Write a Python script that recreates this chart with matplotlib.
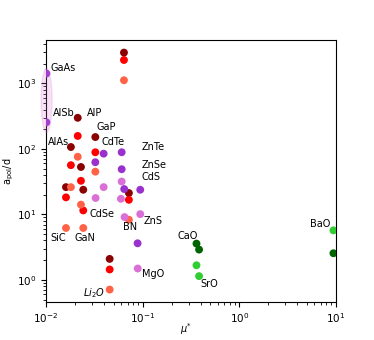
import matplotlib
matplotlib.use("Agg")
import matplotlib.pyplot as plt
from matplotlib.patches import Ellipse

# --- data (mu*, a_pol/d) per series ---
darkred_x = [0.0641, 0.0213, 0.0324, 0.0181, 0.0230, 0.0161, 0.0243, 0.0721, 0.0456]
darkred_y = [2965, 299, 152, 107, 53, 26.1, 23.8, 21.2, 2.09]
red_x = [0.0641, 0.0213, 0.0181, 0.0324, 0.0230, 0.0161, 0.0243, 0.0721, 0.0456]
red_y = [2285, 158, 56.5, 89, 32.6, 18.2, 11.5, 16.7, 1.44]
tomato_x = [0.0641, 0.0213, 0.0324, 0.0181, 0.0230, 0.0161, 0.0243, 0.0721, 0.0456]
tomato_y = [1122, 76, 45, 26.1, 14.1, 6.2, 6.2, 8.3, 0.71]
violet_x = [0.0101, 0.0101, 0.0324, 0.0395, 0.0607, 0.0607, 0.0645, 0.0945, 0.0887]
violet_y = [1420, 255, 62.7, 84.7, 89, 49, 24.4, 23.8, 3.62]
orchid_x = [0.0607, 0.0326, 0.0395, 0.0596, 0.0650, 0.0945, 0.0890]
orchid_y = [31.8, 17.8, 26.1, 17.3, 9.1, 10.1, 1.49]
dkgreen_x = [0.361, 0.384, 9.44]
dkgreen_y = [3.58, 2.9, 2.55]
ltgreen_x = [0.361, 0.384, 9.44]
ltgreen_y = [1.67, 1.14, 5.7]

labels = ["GaAs", "AlSb", "AlP", "GaP", "AlAs", "CdTe", "ZnTe", "ZnSe", "CdS",
          "CdSe", "SiC", "GaN", "BN", "ZnS", "MgO", r"$Li_2O$", "CaO", "SrO", "BaO"]
label_x = [0.0110, 0.0119, 0.0266, 0.0337, 0.0105, 0.0379, 0.0983, 0.0983, 0.0983,
           0.0285, 0.0110, 0.0195, 0.0625, 0.1031, 0.0983, 0.0241, 0.232, 0.398, 5.46]
label_y = [1709, 357, 357, 218, 129, 129, 108, 57.1, 37.9,
           10.1, 4.37, 4.37, 6.34, 7.83, 1.25, 0.637, 4.74, 0.873, 7.22]

fig = plt.figure(figsize=(3.74, 3.40), dpi=100)
ax = fig.add_axes([0.123, 0.112, 0.775, 0.770])
ax.set_xscale("log")
ax.set_yscale("log")

s = 32
series = [(darkred_x, darkred_y, "#8B0000"), (red_x, red_y, "#FF0000"),
          (tomato_x, tomato_y, "#FF6347"), (violet_x, violet_y, "#9932CC"),
          (orchid_x, orchid_y, "#DA70D6"), (dkgreen_x, dkgreen_y, "#006400"),
          (ltgreen_x, ltgreen_y, "#32CD32")]
for xs, ys, c in series:
    ax.scatter(xs, ys, s=s, color=c, edgecolors="none", zorder=3)

for t, x, y in zip(labels, label_x, label_y):
    ax.text(x, y, t, fontsize=7, ha="left", va="center")

ax.add_patch(Ellipse((0.002, 0.77), 0.038, 0.245, transform=ax.transAxes,
                     facecolor="#DA70D6", alpha=0.2, edgecolor="#DA70D6",
                     clip_on=False, zorder=4))

ax.set_xlim(0.01, 10)
ax.set_ylim(0.46, 4600)
ax.set_xlabel(r"$\mu^{*}$", fontsize=7)
ax.set_ylabel(r"a$_{\rm pol}$/d", fontsize=7)
ax.xaxis.set_label_coords(0.483, -0.073)
ax.yaxis.set_label_coords(-0.105, 0.5)
ax.tick_params(labelsize=7.5)
fig.savefig("out.png", dpi=100)
